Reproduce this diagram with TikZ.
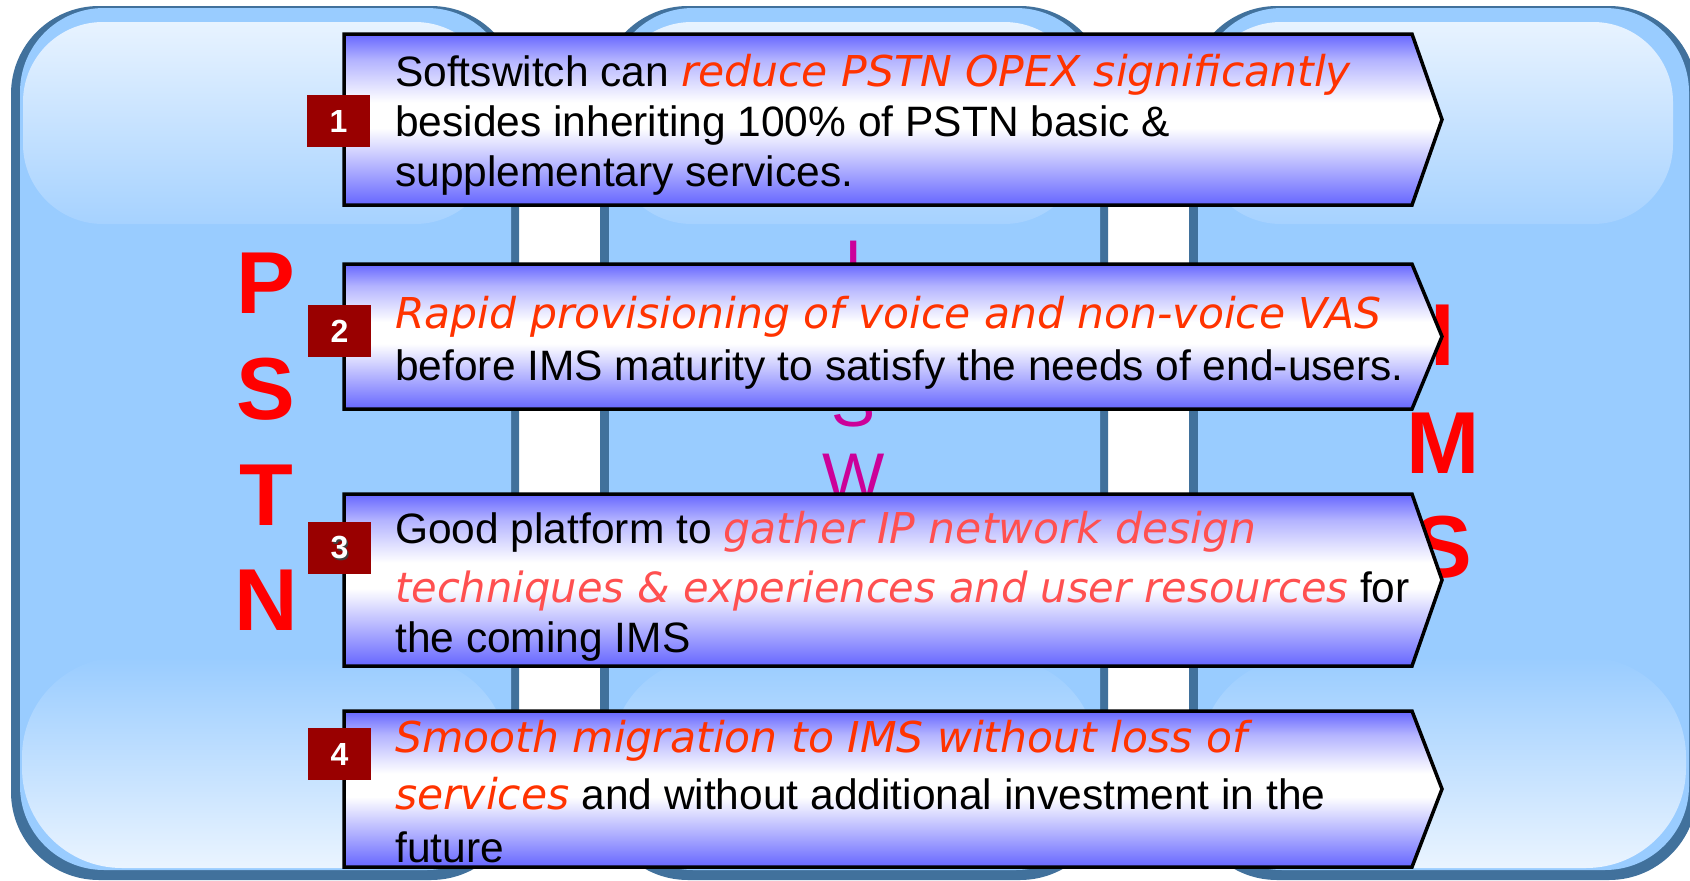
\documentclass[tikz,border=0pt]{standalone}
\usepackage{fontspec}
\setmainfont{Liberation Sans}
\newfontfamily\vit{DejaVu Sans Oblique}
\definecolor{panelDark}{RGB}{65,113,156}
\definecolor{panelBase}{RGB}{153,204,255}
\definecolor{hiTop}{RGB}{232,243,255}
\definecolor{hiBot}{RGB}{166,210,255}
\definecolor{hiLow}{RGB}{234,244,255}
\definecolor{arrowBlue}{RGB}{102,102,255}
\definecolor{redA}{RGB}{255,51,0}
\definecolor{redB}{RGB}{255,80,80}
\definecolor{magentaL}{RGB}{204,0,153}
\definecolor{boxRed}{RGB}{153,0,0}
\newcommand{\rdA}{\vit\color{redA}}
\newcommand{\rdB}{\vit\color{redB}}
\pgfdeclareverticalshading{signshade}{100bp}{%
  color(0bp)=(arrowBlue);
  color(25bp)=(arrowBlue);
  color(35bp)=(arrowBlue!55!white);
  color(47.5bp)=(white);
  color(55bp)=(white);
  color(67.5bp)=(arrowBlue!50!white);
  color(75bp)=(arrowBlue);
  color(100bp)=(arrowBlue)}
\begin{document}
\begin{tikzpicture}[x=1pt,y=-1pt,
  panelshadow/.style={fill=panelDark, rounded corners=88pt},
  panelbody/.style={fill=panelBase, rounded corners=84pt},
  tophi/.style={rounded corners=80pt, top color=hiTop, bottom color=hiBot},
  bothi/.style={rounded corners=100pt, top color=panelBase, bottom color=hiLow},
  sign/.style={draw=black, line width=3.5pt, line join=miter, shading=signshade},
  body/.style={anchor=base west, inner sep=0pt, font=\fontsize{42.5}{50}\selectfont, text=black},
  numbox/.style={fill=boxRed, minimum width=63pt, minimum height=52pt, inner sep=0pt},
  numtxt/.style={inner sep=0pt, text=white, font=\fontsize{32}{32}\selectfont\bfseries},
  bigletter/.style={anchor=base, inner sep=0pt, text=red, font=\fontsize{88}{88}\selectfont\bfseries},
  midletter/.style={anchor=base, inner sep=0pt, text=magentaL, font=\fontsize{66}{66}\selectfont},
]
\path[use as bounding box] (0,0) rectangle (1690,881);
\clip (0,0) rectangle (1690,881);
\fill[white] (0,0) rectangle (1690,881);

% panels
\foreach \dx in {0,589,1178}{
  \fill[panelshadow] (11+\dx,6) rectangle (519+\dx,880);
  \fill[panelbody] (20+\dx,8) rectangle (511+\dx,870);
  \path[tophi] (23+\dx,22) rectangle (495+\dx,224);
  \path[bothi] (22+\dx,657) rectangle (508+\dx,868);
}

% column letters (behind the signs)
\node[bigletter] (pP) at (266,313) {P};
\node[bigletter] (pS) at (266,419) {S};
\node[bigletter] (pT) at (266,525) {T};
\node[bigletter] (pN) at (266,630) {N};
\node[bigletter] (iI) at (1443,365) {I};
\node[bigletter] (iM) at (1443,473) {M};
\node[bigletter] (iS) at (1443,577) {S};
\node[midletter] (mI) at (854,286.6) {I};
\node[midletter] (mS) at (854,426) {S};
\node[midletter] (mW) at (854,499.6) {W};

% signs
\draw[sign] (344,34) -- (1412,34) -- (1442,119.5) -- (1412,205) -- (344,205) -- cycle;
\draw[sign] (344,264) -- (1412,264) -- (1442,336.5) -- (1412,409) -- (344,409) -- cycle;
\draw[sign] (344,494) -- (1412,494) -- (1442,580) -- (1412,666) -- (344,666) -- cycle;
\draw[sign] (344,711) -- (1412,711) -- (1442,789) -- (1412,867) -- (344,867) -- cycle;

% texts
\node[body] (t1a) at (395,86.7) {Softswitch can {\rdA reduce PSTN OPEX significantly}};
\node[body] (t1b) at (395,136.7) {besides inheriting 100\% of PSTN basic \&};
\node[body] (t1c) at (395,186.7) {supplementary services.};

\node[body] (t2a) at (395,328) {{\rdA Rapid provisioning of voice and non-voice VAS}};
\node[body] (t2b) at (395,380) {before IMS maturity to satisfy the needs of end-users.};

\node[body] (t3a) at (395,543) {Good platform to {\rdB gather IP network design}};
\node[body] (t3b) at (395,602) {{\fontsize{41.6}{50}\selectfont\rdB techniques \& experiences and user resources} for};
\node[body] (t3c) at (395,652) {the coming IMS};

\node[body] (t4a) at (395,752) {{\rdA Smooth migration to IMS without loss of}};
\node[body] (t4b) at (395,809) {{\rdA services} and without additional investment in the};
\node[body] (t4c) at (395,862) {future};

% number boxes
\node[numbox] (b1) at (338.5,121) {};
\node[numtxt] (n1) at (b1) {1};
\node[numbox] (b2) at (339.5,331) {};
\node[numtxt] (n2) at (b2) {2};
\node[numbox] (b3) at (339.5,548) {};
\node[numtxt, text=black!75] (n3s) at (341,549.5) {3};
\node[numtxt] (n3) at (b3) {3};
\node[numbox] (b4) at (339.5,754) {};
\node[numtxt] (n4) at (b4) {4};
\end{tikzpicture}
\end{document}
